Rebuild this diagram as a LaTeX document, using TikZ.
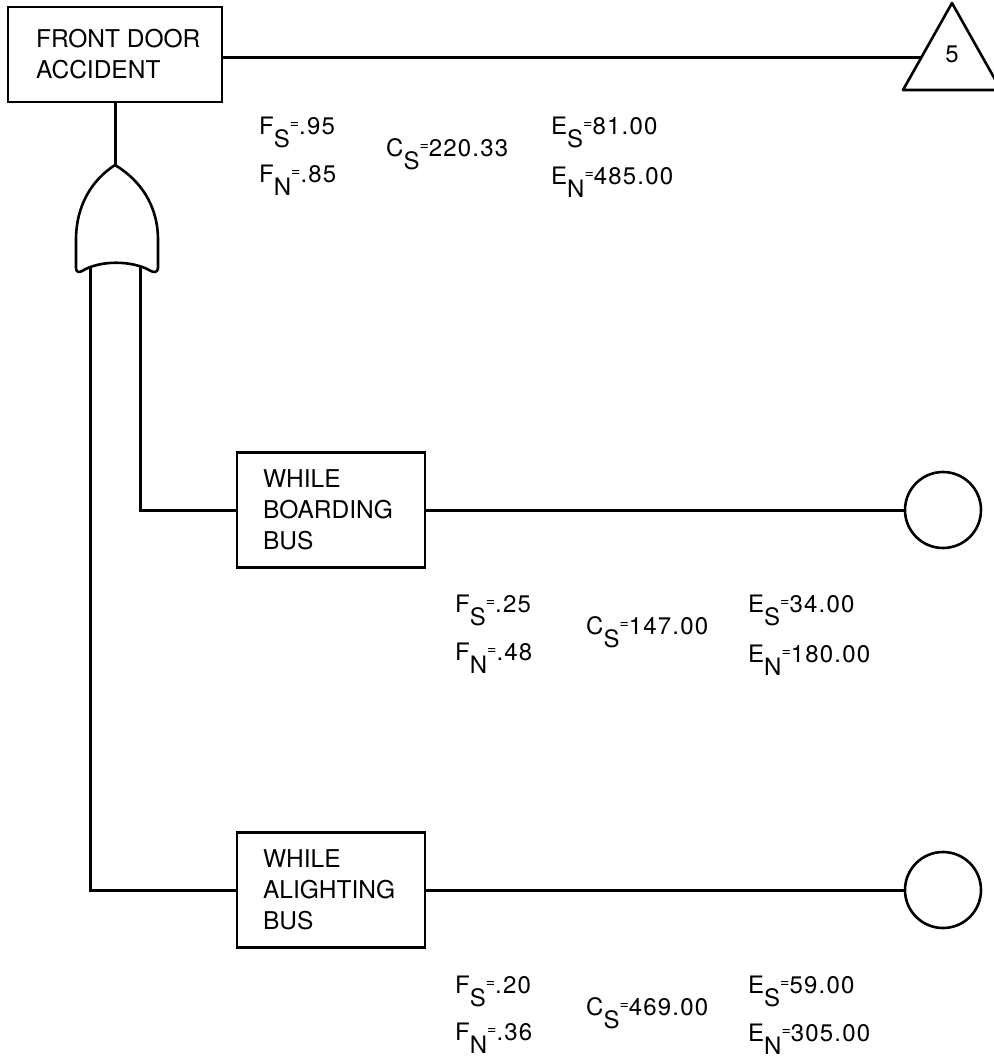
\documentclass[tikz,border=0pt]{standalone}
\usepackage{fontspec}
\setmainfont{TeX Gyre Heros}
\newfontfamily\labfont[LetterSpace=5]{TeX Gyre Heros}
\newcommand\flab[3]{#1\raisebox{-0.55em}{#2}\raisebox{0.22em}{\fontsize{16}{16}\selectfont=}#3}
\begin{document}
\begin{tikzpicture}[x=1pt,y=-1pt,
  box/.style={draw, line width=2.2pt, rectangle, inner sep=0pt},
  boxtext/.style={font=\fontsize{24.5}{31}\selectfont, align=left, inner sep=0pt, anchor=west},
  wire/.style={line width=3pt},
  shapeline/.style={line width=2.6pt, line join=round},
  lab/.style={font=\labfont\fontsize{24}{24}\selectfont, inner sep=0pt, anchor=base west},
  endcircle/.style={circle, draw, line width=2.6pt, minimum size=76pt, inner sep=0pt}]
\useasboundingbox (0,0) rectangle (994,1061);
% boxes
\node[box, minimum width=214pt, minimum height=95pt] (top) at (115,54.5) {};
\node[boxtext] (toptxt) at ([xshift=29pt]top.west) {FRONT DOOR\\ACCIDENT};
\node[box, minimum width=188pt, minimum height=115pt] (b1) at (331,510) {};
\node[boxtext] (b1txt) at ([xshift=27pt]b1.west) {WHILE\\BOARDING\\BUS};
\node[box, minimum width=188pt, minimum height=115pt] (b2) at (331,890) {};
\node[boxtext] (b2txt) at ([xshift=27pt]b2.west) {WHILE\\ALIGHTING\\BUS};
% end circles
\node[endcircle] (c1) at (943,510) {};
\node[endcircle] (c2) at (943,890) {};
% transfer triangle
\coordinate (tri) at (921.6,57);
\draw[shapeline] (952,3) -- (1001,90) -- (903,90) -- cycle;
\node[font=\fontsize{24}{24}\selectfont, inner sep=0pt, anchor=base] (five) at (952,62) {5};
% gate
\coordinate (gtop) at (115,165);
\coordinate (gL) at (90,267);
\coordinate (gR) at (140,266);
\draw[wire] (top.east |- tri) -- (tri);
\draw[wire] (top.south) -- (gtop);
\draw[wire] (gR) |- (b1.west);
\draw[wire] (gL) |- (b2.west);
\draw[wire] (b1.east) -- (c1.west);
\draw[wire] (b2.east) -- (c2.west);
\draw[shapeline, fill=white] (gtop) .. controls (92,180) and (76,205) .. (76,240) -- (76,268)
  .. controls (76,272) and (79,273) .. (82,271)
  .. controls (100,260) and (132,260) .. (151,271)
  .. controls (154,273) and (158,272) .. (158,268) -- (158,240)
  .. controls (158,205) and (140,180) .. (gtop) -- cycle;
% labels
\node[lab] (l1) at (259,134) {\flab{F}{S}{.95}};
\node[lab] (l2) at (259,182) {\flab{F}{N}{.85}};
\node[lab] (l3) at (386,156) {\flab{C}{S}{220.33}};
\node[lab] (l4) at (551,134) {\flab{E}{S}{81.00}};
\node[lab] (l5) at (551,184) {\flab{E}{N}{485.00}};
\node[lab] (m1) at (455,612) {\flab{F}{S}{.25}};
\node[lab] (m2) at (455,660) {\flab{F}{N}{.48}};
\node[lab] (m3) at (586,634) {\flab{C}{S}{147.00}};
\node[lab] (m4) at (748,612) {\flab{E}{S}{34.00}};
\node[lab] (m5) at (748,662) {\flab{E}{N}{180.00}};
\node[lab] (n1) at (455,993) {\flab{F}{S}{.20}};
\node[lab] (n2) at (455,1040) {\flab{F}{N}{.36}};
\node[lab] (n3) at (586,1015) {\flab{C}{S}{469.00}};
\node[lab] (n4) at (748,993) {\flab{E}{S}{59.00}};
\node[lab] (n5) at (748,1041) {\flab{E}{N}{305.00}};
\end{tikzpicture}
\end{document}
